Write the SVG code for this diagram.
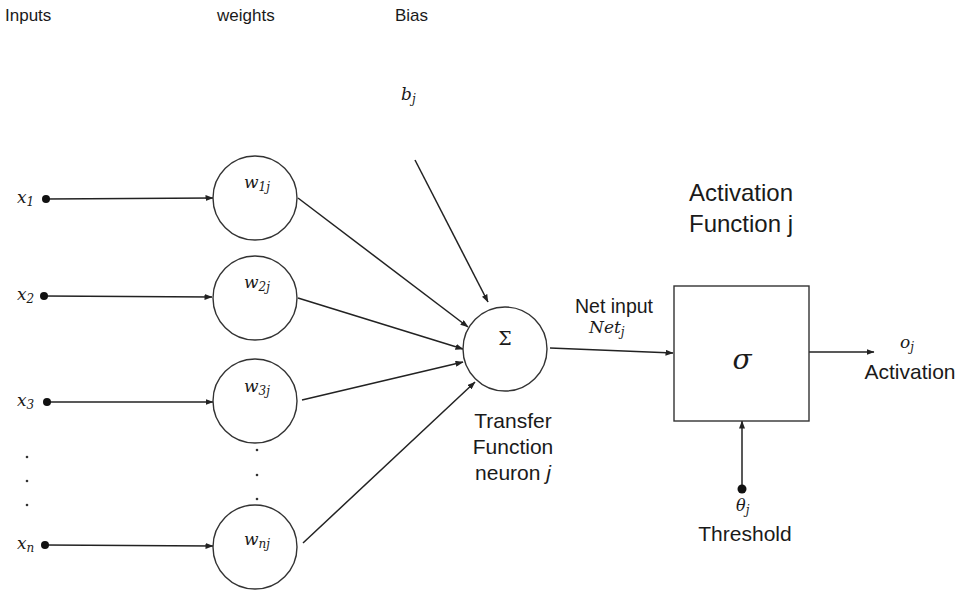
<svg xmlns="http://www.w3.org/2000/svg" width="960" height="593" viewBox="0 0 960 593">
<defs>
<marker id="ah" markerWidth="8" markerHeight="6" refX="7.5" refY="3" orient="auto" markerUnits="userSpaceOnUse">
<path d="M0,0 L8,3 L0,6 Z" fill="#222"/>
</marker>
<style>
.lbl{font-family:"Liberation Sans",Arial,sans-serif;fill:#1a1a1a}
.hdr{font-size:17px}
.big{font-size:21px}
.m{font-family:"DejaVu Serif","Liberation Serif",serif;font-style:italic;fill:#1a1a1a;font-size:17px}
.sub{font-size:12px}
.node{fill:#fff;stroke:#333;stroke-width:1.4}
.edge{stroke:#222;stroke-width:1.5;fill:none;marker-end:url(#ah)}
.dot{fill:#111}
.ell{fill:#333}
</style>
</defs>
<rect width="960" height="593" fill="#fff"/>

<g id="headers">
<text class="lbl hdr" x="5" y="21">Inputs</text>
<text class="lbl hdr" x="217" y="21">weights</text>
<text class="lbl hdr" x="395" y="21">Bias</text>
</g>

<g id="connectors">
<line class="edge" x1="46" y1="199" x2="213" y2="198"/>
<line class="edge" x1="44" y1="296" x2="212" y2="297"/>
<line class="edge" x1="47" y1="402" x2="213" y2="402"/>
<line class="edge" x1="45" y1="545" x2="213" y2="546"/>
<line class="edge" x1="298" y1="198" x2="468" y2="327"/>
<line class="edge" x1="298" y1="298" x2="463" y2="349"/>
<line class="edge" x1="302" y1="400" x2="463" y2="362"/>
<line class="edge" x1="303" y1="543" x2="475" y2="382"/>
<line class="edge" x1="415" y1="160" x2="488" y2="302"/>
<line class="edge" x1="550" y1="348" x2="673" y2="353"/>
<line class="edge" x1="809" y1="352" x2="874" y2="352"/>
<line class="edge" x1="742" y1="489" x2="742" y2="421"/>
</g>

<g id="inputs">
<circle class="dot" cx="46" cy="199" r="4"/>
<circle class="dot" cx="44" cy="296" r="4"/>
<circle class="dot" cx="47" cy="402" r="4"/>
<circle class="dot" cx="45" cy="545" r="4"/>
<text class="m" x="17" y="203">x<tspan class="sub" dy="3">1</tspan></text>
<text class="m" x="17" y="300">x<tspan class="sub" dy="3">2</tspan></text>
<text class="m" x="17" y="406">x<tspan class="sub" dy="3">3</tspan></text>
<text class="m" x="17" y="549">x<tspan class="sub" dy="3">n</tspan></text>
<circle class="ell" cx="27" cy="457" r="1.3"/>
<circle class="ell" cx="27" cy="481" r="1.3"/>
<circle class="ell" cx="27" cy="505" r="1.3"/>
</g>

<g id="w1">
<circle class="node" cx="255" cy="198" r="42"/>
<text class="m" x="244" y="188">w<tspan class="sub" dy="3">1j</tspan></text>
</g>
<g id="w2">
<circle class="node" cx="255" cy="298" r="42"/>
<text class="m" x="244" y="288">w<tspan class="sub" dy="3">2j</tspan></text>
</g>
<g id="w3">
<circle class="node" cx="255" cy="401" r="42"/>
<text class="m" x="244" y="392">w<tspan class="sub" dy="3">3j</tspan></text>
</g>
<g id="wdots">
<circle class="ell" cx="257" cy="450" r="1.3"/>
<circle class="ell" cx="257" cy="475" r="1.3"/>
<circle class="ell" cx="257" cy="499" r="1.3"/>
</g>
<g id="wn">
<circle class="node" cx="255" cy="547" r="42"/>
<text class="m" x="244" y="545">w<tspan class="sub" dy="3">nj</tspan></text>
</g>

<g id="bias">
<text class="m" x="401" y="100">b<tspan class="sub" dy="3">j</tspan></text>
</g>

<g id="sum">
<circle class="node" cx="505" cy="349" r="42"/>
<text x="505" y="345" text-anchor="middle" style="font-family:'DejaVu Serif','Liberation Serif',serif;font-size:19px;fill:#1a1a1a">Σ</text>
<text class="lbl big" x="513" y="428" text-anchor="middle">Transfer</text>
<text class="lbl big" x="513" y="454" text-anchor="middle">Function</text>
<text class="lbl big" x="513" y="480" text-anchor="middle">neuron <tspan font-style="italic">j</tspan></text>
</g>

<g id="netinput">
<text class="lbl" x="614" y="313" text-anchor="middle" style="font-size:19.5px">Net input</text>
<text class="m" x="589" y="333">Net<tspan class="sub" dy="3">j</tspan></text>
</g>

<g id="activation">
<rect class="node" x="674" y="286" width="135" height="135"/>
<text x="742" y="369" text-anchor="middle" style="font-family:'DejaVu Serif','Liberation Serif',serif;font-style:italic;font-size:28px;fill:#1a1a1a">σ</text>
<text class="lbl" x="741" y="201" text-anchor="middle" style="font-size:24px">Activation</text>
<text class="lbl" x="741" y="232" text-anchor="middle" style="font-size:24px">Function j</text>
</g>

<g id="output">
<text class="m" x="900" y="348">o<tspan class="sub" dy="3">j</tspan></text>
<text class="lbl big" x="910" y="379" text-anchor="middle">Activation</text>
</g>

<g id="threshold">
<circle class="dot" cx="742" cy="489" r="4.5"/>
<text class="m" x="736" y="511" style="font-size:16px">θ<tspan class="sub" dy="3">j</tspan></text>
<text class="lbl big" x="745" y="541" text-anchor="middle">Threshold</text>
</g>
</svg>
